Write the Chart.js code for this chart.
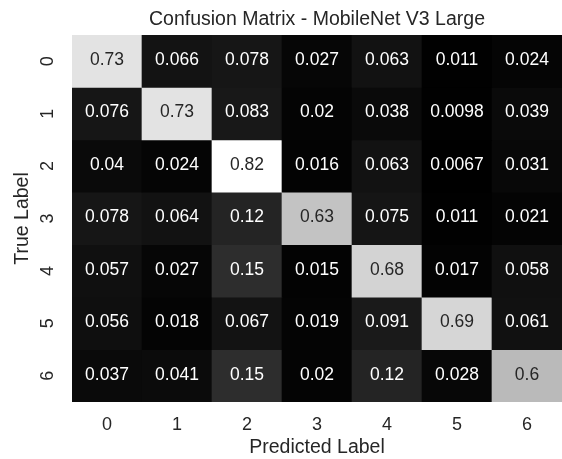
<!DOCTYPE html>
<html lang="en">
<head>
  <meta charset="UTF-8">
  <title>Confusion Matrix - MobileNet V3 Large</title>
  <script src="https://cdn.jsdelivr.net/npm/chart.js"></script>
  <style>
    * { box-sizing:border-box; }
    body { margin:0; background:#fff; }
    #wrap { width:562px; height:459px; }
  </style>
</head>
<body>
<div id="wrap">
  <canvas id="cm" width="562" height="459"></canvas>
</div>

<script>
  // labels
  const predictedLabels = ['0', '1', '2', '3', '4', '5', '6'];
  const trueLabels      = ['0', '1', '2', '3', '4', '5', '6'];

  // one row per true label (normalised)
  const row0 = [0.73, 0.066, 0.078, 0.027, 0.063, 0.011, 0.024];
  const row1 = [0.076, 0.73, 0.083, 0.02, 0.038, 0.0098, 0.039];
  const row2 = [0.04, 0.024, 0.82, 0.016, 0.063, 0.0067, 0.031];
  const row3 = [0.078, 0.064, 0.12, 0.63, 0.075, 0.011, 0.021];
  const row4 = [0.057, 0.027, 0.15, 0.015, 0.68, 0.017, 0.058];
  const row5 = [0.056, 0.018, 0.067, 0.019, 0.091, 0.69, 0.061];
  const row6 = [0.037, 0.041, 0.15, 0.02, 0.12, 0.028, 0.6];
  const matrix = [row0, row1, row2, row3, row4, row5, row6];

  const TXT = '#262626';
  const FONT = "'Liberation Sans', Arial, sans-serif";

  // grey colormap, min..max of the data
  const all = matrix.flat();
  const vmin = Math.min(...all), vmax = Math.max(...all);
  function grey(v){
    const g = Math.round(255 * (v - vmin) / (vmax - vmin));
    return `rgb(${g},${g},${g})`;
  }
  function textColor(v){
    const g = (v - vmin) / (vmax - vmin);
    const lin = g <= 0.04045 ? g/12.92 : Math.pow((g+0.055)/1.055, 2.4);
    return lin > 0.408 ? TXT : '#fff';
  }

  // each true label is one stacked dataset of unit height
  const datasets = matrix.map((row, r) => ({
    label: trueLabels[r],
    data: row.map(() => 1),
    backgroundColor: row.map(grey),
    borderWidth: 0,
    barPercentage: 1,
    categoryPercentage: 1,
    xAxisID: 'x',
    yAxisID: 'y'
  }));

  // annotate cells
  const annotate = {
    id: 'annotate',
    afterDatasetsDraw(chart){
      const ctx = chart.ctx;
      ctx.save();
      ctx.font = `17.5px ${FONT}`;
      ctx.textAlign = 'center';
      ctx.textBaseline = 'middle';
      matrix.forEach((row, r) => {
        const meta = chart.getDatasetMeta(r);
        row.forEach((v, c) => {
          const el = meta.data[c];
          ctx.fillStyle = textColor(v);
          ctx.fillText(String(v), el.x, (el.y + el.base) / 2 - 1);
        });
      });
      ctx.restore();
    }
  };

  new Chart(document.getElementById('cm'), {
    type: 'bar',
    data: { labels: predictedLabels, datasets },
    plugins: [annotate],
    options: {
      responsive: false,
      animation: false,
      layout: { padding: 0 },
      plugins: {
        legend: { display: false },
        tooltip: { enabled: false }
      },
      scales: {
        x: {
          stacked: true,
          grid: { display: false, drawTicks: false },
          border: { display: false },
          ticks: { color: TXT, font: { family: FONT, size: 18 }, padding: 12 },
          title: {
            display: true, text: 'Predicted Label', color: TXT,
            font: { family: FONT, size: 19.5 }, padding: { top: 0, bottom: 0 }
          },
          afterFit(s){ s.height = 57; }
        },
        y: {
          stacked: true,
          reverse: true,
          min: 0, max: trueLabels.length,
          grid: { display: false, drawTicks: false },
          border: { display: false },
          afterBuildTicks(s){ s.ticks = trueLabels.map((_, i) => ({ value: i + 0.5 })); },
          ticks: {
            color: TXT, font: { family: FONT, size: 18 },
            minRotation: 90, maxRotation: 90,
            crossAlign: 'center', padding: 19,
            callback: v => trueLabels[Math.floor(v)]
          },
          title: {
            display: true, text: 'True Label', color: TXT,
            font: { family: FONT, size: 19.5 }, padding: { top: 11, bottom: 0 }
          },
          afterFit(s){ s.width = 72; }
        },
        // top axis only carries the title, centred over the matrix
        top: {
          type: 'category',
          axis: 'x',
          position: 'top',
          grid: { display: false, drawTicks: false },
          border: { display: false },
          ticks: { display: false },
          title: {
            display: true, text: 'Confusion Matrix - MobileNet V3 Large', color: TXT,
            font: { family: FONT, size: 19.5 }, padding: { top: 8.3, bottom: 0 }
          },
          afterFit(s){ s.height = 35; }
        }
      }
    }
  });
</script>
</body>
</html>
